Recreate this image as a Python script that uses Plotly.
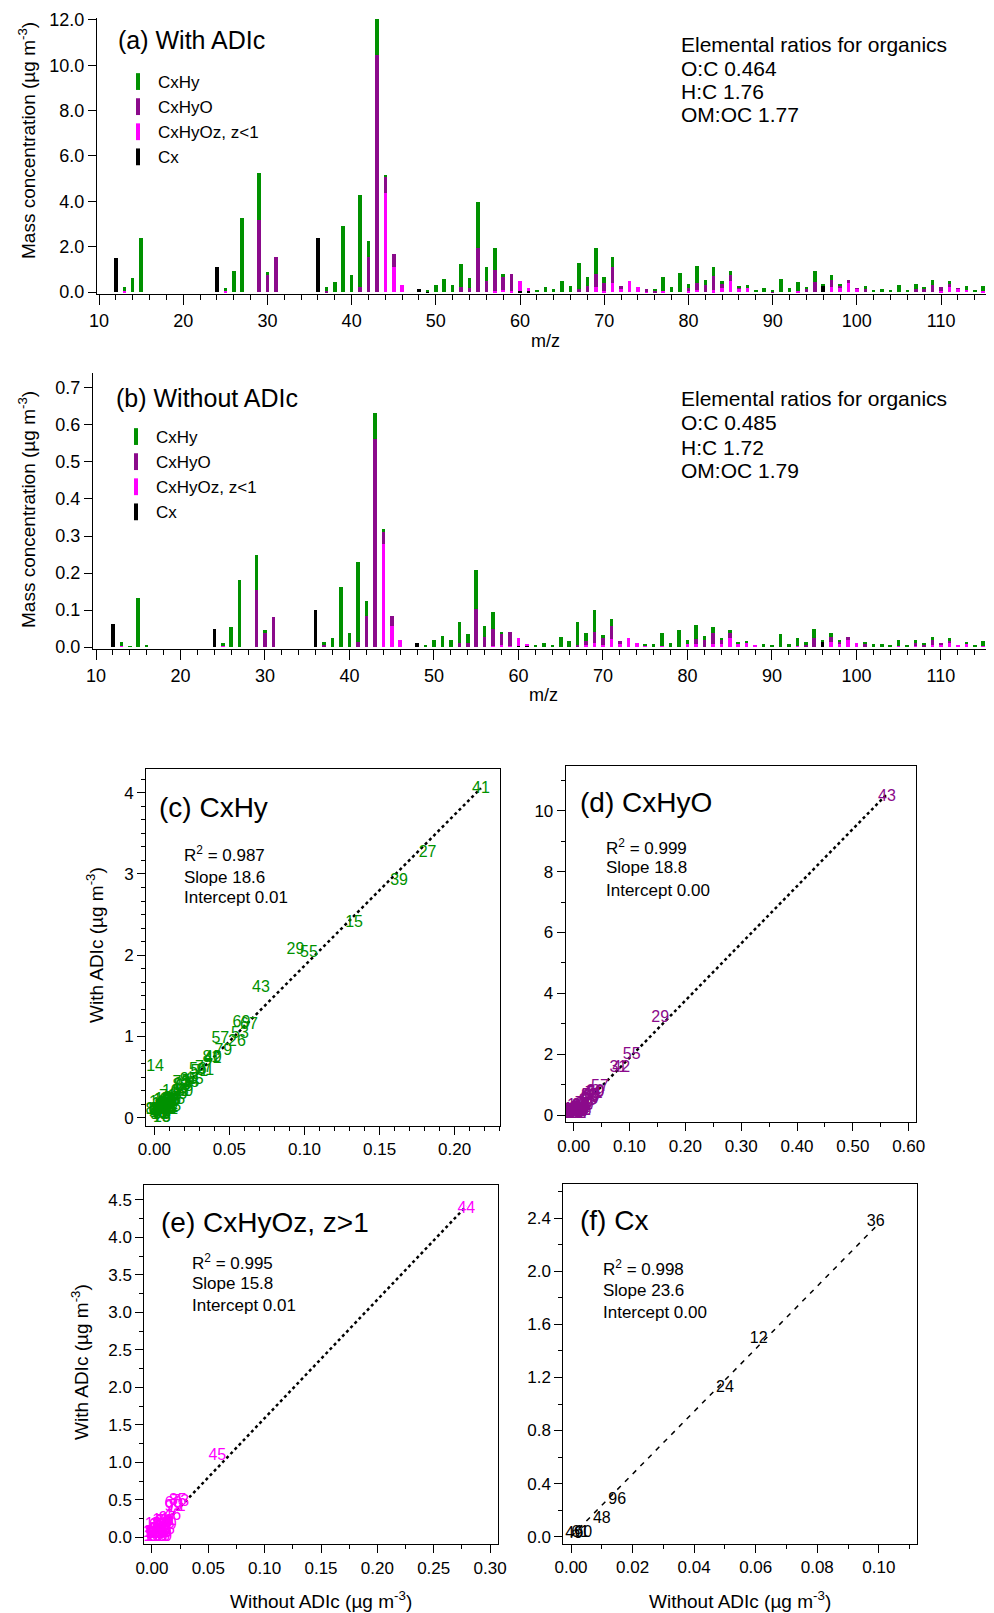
import plotly.graph_objects as go

W, H = 994, 1613          # browser window
OFF = 8                   # default page body margin
FW, FH = W - OFF, H - OFF  # figure size so it fits the window exactly
FONT = "Arial, Liberation Sans, sans-serif"
GREEN = "#009100"
PURPLE = "#8b0a8b"
MAGENTA = "#ff00ff"
BLACK = "#000000"

# ---------------- data (m/z -> mass concentration, ug m-3) ----------------
MZ = [12, 13, 14, 15, 16, 24, 25, 26, 27, 29, 30, 31, 36, 37, 38, 39, 40, 41, 42, 43, 44, 45, 46,
      48, 49, 50, 51, 52, 53, 54, 55, 56, 57, 58, 59, 60, 61, 62, 63, 64, 65, 66, 67, 68, 69, 70,
      71, 72, 73, 74, 75, 76, 77, 78, 79, 80, 81, 82, 83, 84, 85, 86, 87, 88, 89, 90, 91, 92, 93,
      94, 95, 96, 97, 98, 99, 100, 101, 102, 103, 104, 105, 106, 107, 108, 109, 110, 111, 112,
      113, 114, 115, 116]

CXHY_WITH = {13: 0.18, 14: 0.62, 15: 2.40, 25: 0.15, 26: 0.93, 27: 3.26, 29: 2.07, 30: 0.14,
             37: 0.17, 38: 0.43, 39: 2.91, 40: 0.74, 41: 4.04, 42: 0.72, 43: 1.60, 44: 0.07,
             49: 0.05, 50: 0.32, 51: 0.56, 52: 0.32, 53: 1.03, 54: 0.44, 55: 2.03, 56: 0.59,
             57: 0.97, 58: 0.07, 62: 0.09, 63: 0.21, 64: 0.13, 65: 0.47, 66: 0.28, 67: 1.14,
             68: 0.38, 69: 1.16, 70: 0.25, 71: 0.43, 76: 0.10, 77: 0.61, 78: 0.21, 79: 0.82,
             80: 0.19, 81: 0.74, 82: 0.22, 83: 0.39, 84: 0.10, 85: 0.19, 86: 0.04, 87: 0.12,
             88: 0.09, 89: 0.16, 90: 0.03, 91: 0.57, 92: 0.16, 93: 0.40, 94: 0.09, 95: 0.47,
             96: 0.03, 97: 0.23, 98: 0.06, 101: 0.16, 102: 0.09, 103: 0.13, 104: 0.09, 105: 0.32,
             106: 0.09, 107: 0.20, 108: 0.09, 109: 0.22, 111: 0.12, 113: 0.18, 114: 0.09, 115: 0.22}
CXHY_WITHOUT = {13: 0.009, 14: 0.0005, 15: 0.133, 16: 0.005, 25: 0.007, 26: 0.055, 27: 0.182,
                29: 0.094, 30: 0.006, 37: 0.008, 38: 0.024, 39: 0.163, 40: 0.039, 41: 0.2175,
                42: 0.039, 43: 0.071, 44: 0.006, 49: 0.003, 50: 0.020, 51: 0.030, 52: 0.018,
                53: 0.057, 54: 0.024, 55: 0.103, 56: 0.029, 57: 0.044, 58: 0.005, 62: 0.006,
                63: 0.011, 64: 0.006, 65: 0.027, 66: 0.016, 67: 0.063, 68: 0.020, 69: 0.058,
                70: 0.009, 71: 0.018, 75: 0.005, 76: 0.007, 77: 0.033, 78: 0.011, 79: 0.046,
                80: 0.011, 81: 0.038, 82: 0.011, 83: 0.018, 84: 0.003, 85: 0.009, 86: 0.005,
                87: 0.006, 89: 0.008, 90: 0.003, 91: 0.034, 92: 0.008, 93: 0.019, 94: 0.008,
                95: 0.023, 96: 0.005, 97: 0.012, 98: 0.002, 101: 0.007, 102: 0.007, 103: 0.009,
                104: 0.005, 105: 0.014, 106: 0.006, 107: 0.008, 108: 0.003, 109: 0.009,
                111: 0.008, 113: 0.005, 114: 0.006, 115: 0.012}

CXHYO_WITH = {29: 3.18, 30: 0.74, 31: 1.53, 37: 0.05, 41: 0.24, 42: 1.53, 43: 10.45, 44: 0.71,
              45: 0.59, 53: 0.21, 54: 0.19, 55: 1.96, 56: 0.50, 57: 0.92, 58: 0.61, 59: 0.73,
              67: 0.12, 68: 0.28, 69: 0.57, 70: 0.36, 71: 0.69, 72: 0.10, 75: 0.08, 76: 0.03,
              80: 0.10, 81: 0.31, 82: 0.32, 83: 0.63, 84: 0.21, 85: 0.25, 86: 0.05, 90: 0.03,
              94: 0.15, 95: 0.46, 96: 0.04, 97: 0.27, 98: 0.13, 99: 0.11, 100: 0.02, 101: 0.12,
              107: 0.15, 108: 0.12, 109: 0.29, 110: 0.15, 111: 0.13, 112: 0.03}
CXHYO_WITHOUT = {29: 0.155, 30: 0.039, 31: 0.080, 37: 0.005, 41: 0.0135, 42: 0.085, 43: 0.561,
                 44: 0.033, 45: 0.027, 53: 0.010, 54: 0.010, 55: 0.104, 56: 0.028, 57: 0.047,
                 58: 0.030, 59: 0.039, 67: 0.005, 68: 0.012, 69: 0.030, 70: 0.018, 71: 0.036,
                 72: 0.007, 81: 0.013, 82: 0.018, 83: 0.029, 84: 0.013, 85: 0.014, 90: 0.002,
                 94: 0.006, 95: 0.025, 97: 0.013, 98: 0.006, 99: 0.007, 101: 0.007, 107: 0.005,
                 108: 0.008, 109: 0.012, 110: 0.005, 111: 0.005}

CXHYOZ_WITH = {13: 0.04, 25: 0.04, 44: 4.38, 45: 1.09, 46: 0.29, 57: 0.05, 58: 0.10, 59: 0.05,
               60: 0.44, 61: 0.15, 69: 0.21, 70: 0.05, 71: 0.41, 72: 0.15, 73: 0.47, 74: 0.21,
               75: 0.05, 77: 0.05, 80: 0.06, 81: 0.10, 83: 0.08, 84: 0.16, 85: 0.49, 86: 0.15,
               87: 0.19, 93: 0.04, 97: 0.24, 98: 0.16, 99: 0.40, 100: 0.16, 110: 0.06, 111: 0.22,
               112: 0.16, 113: 0.10, 115: 0.06, 116: 0.06}
CXHYOZ_WITHOUT = {13: 0.004, 25: 0.003, 44: 0.279, 45: 0.058, 46: 0.018, 57: 0.003, 58: 0.006,
                  59: 0.002, 60: 0.019, 61: 0.005, 68: 0.005, 69: 0.011, 70: 0.005, 71: 0.022,
                  72: 0.008, 73: 0.025, 74: 0.011, 75: 0.004, 77: 0.004, 80: 0.009, 81: 0.008,
                  83: 0.008, 84: 0.008, 85: 0.023, 86: 0.009, 87: 0.010, 88: 0.005, 93: 0.004,
                  97: 0.014, 98: 0.009, 99: 0.019, 100: 0.010, 105: 0.004, 107: 0.005, 109: 0.006,
                  110: 0.006, 111: 0.011, 112: 0.005, 113: 0.009, 115: 0.004, 116: 0.003}

CX_WITH = {12: 1.49, 24: 1.12, 36: 2.37, 48: 0.13, 49: 0.02, 60: 0.03, 61: 0.03, 96: 0.28}
CX_WITHOUT = {12: 0.061, 24: 0.050, 36: 0.099, 48: 0.010, 49: 0.001, 60: 0.004, 61: 0.003, 96: 0.015}

FAMILY_NAMES = ["CxHy", "CxHyO", "CxHyOz, z<1", "Cx"]
ELEMENTAL_A = ["Elemental ratios for organics", "O:C 0.464", "H:C 1.76", "OM:OC 1.77"]
ELEMENTAL_B = ["Elemental ratios for organics", "O:C 0.485", "H:C 1.72", "OM:OC 1.79"]

SCATTER_TITLES = ["(c) CxHy", "(d) CxHyO", "(e) CxHyOz, z>1", "(f) Cx"]
R2 = ["0.987", "0.999", "0.995", "0.998"]
SLOPE = [18.6, 18.8, 15.8, 23.6]
INTERCEPT = [0.01, 0.00, 0.01, 0.00]

# ---------------- helpers (positions given in window pixels) ----------------
def px(x):
    return (x - OFF) / FW

def py(y):
    return 1 - (y - OFF) / FH

def dx(l, r):
    return [px(l), px(r)]

def dy(top, bottom):
    return [py(bottom), py(top)]

def col(d):
    return [d.get(m, 0) for m in MZ]

annotations = []

def ann(x, y, text, size, xanchor="left", yanchor="middle", angle=0, color="black"):
    annotations.append(dict(x=px(x), y=py(y), xref="paper", yref="paper", text=text,
                            showarrow=False, xanchor=xanchor, yanchor=yanchor, textangle=angle,
                            font=dict(family=FONT, size=size, color=color)))

fig = go.Figure()

# ---------------- bar panels ----------------
bar_sets = [
    ("x", "y", "legend", [CX_WITH, CXHYOZ_WITH, CXHYO_WITH, CXHY_WITH]),
    ("x2", "y2", "legend2", [CX_WITHOUT, CXHYOZ_WITHOUT, CXHYO_WITHOUT, CXHY_WITHOUT]),
]
stack_colors = [BLACK, MAGENTA, PURPLE, GREEN]
for xa, ya, lg, dsets in bar_sets:
    for d, c in zip(dsets, stack_colors):
        fig.add_trace(go.Bar(x=MZ, y=col(d), width=0.42, marker=dict(color=c, line=dict(width=0)),
                             xaxis=xa, yaxis=ya, showlegend=False))
    for name, c in zip(FAMILY_NAMES, [GREEN, PURPLE, MAGENTA, BLACK]):
        fig.add_trace(go.Scatter(x=[None], y=[None], mode="markers", name=name, xaxis=xa, yaxis=ya,
                                 legend=lg,
                                 marker=dict(symbol="line-ns", size=12, color=c,
                                             line=dict(width=4, color=c))))

# ---------------- scatter panels ----------------
scatter_sets = [
    (CXHY_WITHOUT, CXHY_WITH, GREEN, "3px,3px", 2.5),
    (CXHYO_WITHOUT, CXHYO_WITH, PURPLE, "3px,3px", 2.5),
    (CXHYOZ_WITHOUT, CXHYOZ_WITH, MAGENTA, "3px,3px", 2.5),
    (CX_WITHOUT, CX_WITH, BLACK, "5px,6px", 1.5),
]
for i, (dwo, dw, c, dash, lw) in enumerate(scatter_sets):
    xa, ya = f"x{i + 3}", f"y{i + 3}"
    ions = [m for m in MZ if dwo.get(m, 0) > 0 or dw.get(m, 0) > 0]
    xs = [dwo.get(m, 0) for m in ions]
    ys = [dw.get(m, 0) for m in ions]
    xfit = [0, max(xs)]
    yfit = [SLOPE[i] * v + INTERCEPT[i] for v in xfit]
    fig.add_trace(go.Scatter(x=xfit, y=yfit, mode="lines", xaxis=xa, yaxis=ya, showlegend=False,
                             line=dict(color="black", dash=dash, width=lw)))
    fig.add_trace(go.Scatter(x=xs, y=ys, text=[str(m) for m in ions], mode="text", xaxis=xa,
                             yaxis=ya, showlegend=False, textposition="middle center",
                             textfont=dict(family=FONT, size=16, color=c)))

# ---------------- axes ----------------
def base_axis(**kw):
    d = dict(showline=True, linecolor="black", linewidth=1, ticks="outside", tickcolor="black",
             ticklen=8, tickwidth=1, showgrid=False, zeroline=False, automargin=False,
             tickfont=dict(family=FONT, size=17, color="black"))
    d.update(kw)
    return d

def minor(dt, ln=4):
    return dict(dtick=dt, ticklen=ln, ticks="outside", tickcolor="black", showgrid=False, tick0=0)

legend_common = dict(xanchor="left", yanchor="top", bgcolor="rgba(0,0,0,0)",
                     font=dict(family=FONT, size=17, color="black"), tracegroupgap=0,
                     itemwidth=30, traceorder="normal")

layout = dict(
    width=FW, height=FH, margin=dict(l=0, r=0, t=0, b=0, autoexpand=False), paper_bgcolor="white",
    plot_bgcolor="white", barmode="stack", font=dict(family=FONT, color="black"),
    xaxis=base_axis(domain=dx(97, 992), range=[9.76, 116.05], tick0=10, dtick=10, ticklen=10,
                    anchor="y", minor=minor(2, 5), tickfont=dict(family=FONT, size=18)),
    yaxis=base_axis(domain=dy(17.7, 294), range=[-0.088, 12.1], dtick=2, tickformat=".1f",
                    anchor="x", tickfont=dict(family=FONT, size=18)),
    xaxis2=base_axis(domain=dx(93, 992), range=[9.645, 116.04], tick0=10, dtick=10, ticklen=10,
                     anchor="y2", minor=minor(2, 5), tickfont=dict(family=FONT, size=18)),
    yaxis2=base_axis(domain=dy(373, 649), range=[-0.0054, 0.7405], dtick=0.1, tickformat=".1f",
                     anchor="x2", tickfont=dict(family=FONT, size=18)),
    # (c)
    xaxis3=base_axis(domain=dx(146, 500), range=[-0.00553, 0.2302], dtick=0.05, tickformat=".2f",
                     anchor="y3", mirror=True, minor=minor(0.01)),
    yaxis3=base_axis(domain=dy(769, 1126), range=[-0.102, 4.292], dtick=1, tickformat="d",
                     anchor="x3", mirror=True, minor=minor(1 / 6)),
    # (d)
    xaxis4=base_axis(domain=dx(565.7, 916.3), range=[-0.0143, 0.6136], dtick=0.1, tickformat=".2f",
                     anchor="y4", mirror=True, minor=minor(0.05)),
    yaxis4=base_axis(domain=dy(766, 1122.3), range=[-0.24, 11.47], dtick=2, tickformat="d",
                     anchor="x4", mirror=True, minor=minor(1)),
    # (e)
    xaxis5=base_axis(domain=dx(144.3, 497.7), range=[-0.0068, 0.3068], dtick=0.05, tickformat=".2f",
                     anchor="y5", mirror=True, minor=minor(0.025)),
    yaxis5=base_axis(domain=dy(1185, 1544.3), range=[-0.093, 4.70], dtick=0.5, tickformat=".1f",
                     anchor="x5", mirror=True, minor=minor(0.25)),
    # (f)
    xaxis6=base_axis(domain=dx(563.3, 917.3), range=[-0.0025, 0.1125], dtick=0.02, tickformat=".2f",
                     anchor="y6", mirror=True, minor=minor(0.01)),
    yaxis6=base_axis(domain=dy(1184.3, 1543.7), range=[-0.053, 2.656], dtick=0.4, tickformat=".1f",
                     anchor="x6", mirror=True, minor=minor(0.2)),
    legend=dict(x=px(118), y=py(64), **legend_common),
    legend2=dict(x=px(116), y=py(419), **legend_common),
)

# ---------------- text ----------------
ann(116, 40, "(a) With ADIc", 25)
ann(114, 398, "(b) Without ADIc", 25)
for t, yy in zip(ELEMENTAL_A, [44, 68, 92, 115]):
    ann(679, yy, t, 21)
for t, yy in zip(ELEMENTAL_B, [399, 423, 447, 470]):
    ann(679, yy, t, 21)
ann(545, 341, "m/z", 18, xanchor="center")
ann(543, 695, "m/z", 18, xanchor="center")
ann(27, 141, "Mass concentration (µg m<sup>-3</sup>)", 19, xanchor="center", angle=-90)
ann(27, 510, "Mass concentration (µg m<sup>-3</sup>)", 19, xanchor="center", angle=-90)

title_pos = [(157, 807), (578, 803), (159, 1222), (578, 1220)]
stat_pos = [(182, [854, 877, 898]), (604, [847, 868, 890]), (190, [1262, 1283, 1305]),
            (601, [1268, 1290, 1312])]
for i in range(4):
    ann(title_pos[i][0], title_pos[i][1], SCATTER_TITLES[i], 28)
    sx, sys_ = stat_pos[i]
    ann(sx, sys_[0], f"R<sup>2</sup> = {R2[i]}", 17)
    ann(sx, sys_[1], f"Slope {SLOPE[i]:.1f}", 17)
    ann(sx, sys_[2], f"Intercept {INTERCEPT[i]:.2f}", 17)

ann(95, 945, "With ADIc (µg m<sup>-3</sup>)", 19, xanchor="center", angle=-90)
ann(80, 1362, "With ADIc (µg m<sup>-3</sup>)", 19, xanchor="center", angle=-90)
ann(321, 1600, "Without ADIc (µg m<sup>-3</sup>)", 19, xanchor="center")
ann(740, 1600, "Without ADIc (µg m<sup>-3</sup>)", 19, xanchor="center")

layout["annotations"] = annotations
fig.update_layout(**layout)
fig.write_html("out.html")
